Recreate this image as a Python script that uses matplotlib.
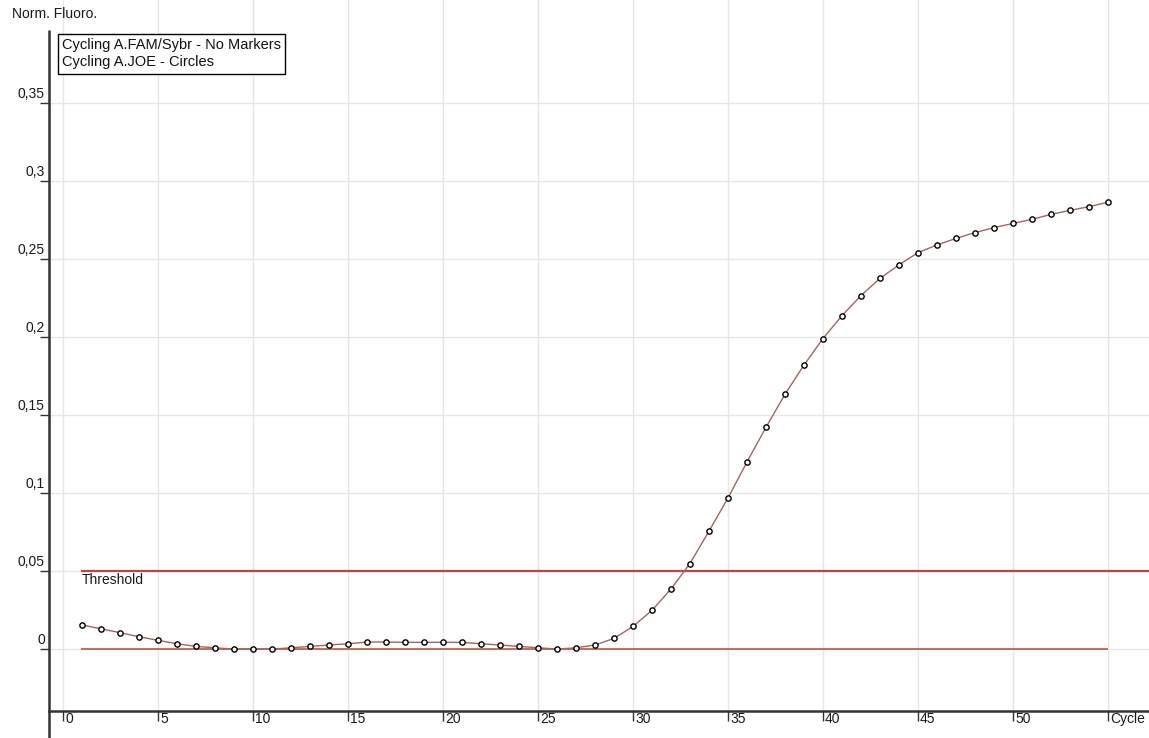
import numpy as np
import matplotlib
matplotlib.use("Agg")
import matplotlib.pyplot as plt

plt.rcParams["font.family"] = ["Liberation Sans", "DejaVu Sans"]
plt.rcParams["font.size"] = 10

# Amplification curve (Norm. Fluoro. per cycle)
cycles = np.arange(1, 56)
fluoro = [
    0.0154, 0.0130, 0.0105, 0.0079, 0.0056, 0.0034, 0.0017, 0.0008, 0.0000, 0.0000,
    0.0000, 0.0008, 0.0017, 0.0026, 0.0034, 0.0045, 0.0045, 0.0043, 0.0043, 0.0043,
    0.0043, 0.0034, 0.0026, 0.0017, 0.0008, 0.0000, 0.0008, 0.0026, 0.0068, 0.0145,
    0.0248, 0.0385, 0.0548, 0.0756, 0.0968, 0.1199, 0.1421, 0.1633, 0.1820, 0.1990,
    0.2137, 0.2265, 0.2376, 0.2462, 0.2541, 0.2590, 0.2632, 0.2669, 0.2701, 0.2728,
    0.2754, 0.2786, 0.2812, 0.2835, 0.2864,
]
threshold = 0.05

x_ticks = [0, 5, 10, 15, 20, 25, 30, 35, 40, 45, 50, 55]
x_labels = ["0", "5", "10", "15", "20", "25", "30", "35", "40", "45", "50", "Cycle"]
y_ticks = [0, 0.05, 0.1, 0.15, 0.2, 0.25, 0.3, 0.35]
y_labels = ["0", "0,05", "0,1", "0,15", "0,2", "0,25", "0,3", "0,35"]
legend_lines = ["Cycling A.FAM/Sybr - No Markers", "Cycling A.JOE - Circles"]

W, H = 1149, 738
fig = plt.figure(figsize=(W / 100, H / 100), dpi=100)
ax = fig.add_axes([49 / W, 27 / H, 1100 / W, 711 / H])
xmin, xmax = -0.737, 57.16
ax.set_xlim(xmin, xmax)
ax.set_ylim(-0.0397, 0.416)

for s in ["top", "right", "left"]:
    ax.spines[s].set_visible(False)
ax.spines["bottom"].set_color("#333333")
ax.spines["bottom"].set_linewidth(1.8)

# left axis line runs past the x axis down to the figure edge
ax.plot([0, 0], [-0.04, 0.958], transform=ax.transAxes, color="#333333",
        lw=1.8, clip_on=False, solid_capstyle="butt")

# grid
grid_c = "#e6e6e6"
for yv in y_ticks:
    ax.axhline(yv, color=grid_c, lw=1, zorder=0)
for xv in x_ticks:
    ax.axvline(xv, color=grid_c, lw=1, zorder=0)

# ticks
ax.set_xticks(x_ticks)
ax.set_yticks(y_ticks)
ax.set_xticklabels([])
ax.set_yticklabels([])
ax.tick_params(axis="x", direction="out", length=7, width=1, color="#333333")
ax.tick_params(axis="y", direction="out", length=6.5, width=1, color="#333333")

for xv, lab in zip(x_ticks, x_labels):
    ax.annotate(lab, (xv, 0), xycoords=ax.get_xaxis_transform(),
                xytext=(1.5, -1), textcoords="offset points",
                ha="left", va="top", color="#1a1a1a", annotation_clip=False)
for yv, lab in zip(y_ticks, y_labels):
    ax.annotate(lab, (0, yv), xycoords=ax.get_yaxis_transform(),
                xytext=(-3, 1.5), textcoords="offset points",
                ha="right", va="bottom", color="#1a1a1a", annotation_clip=False)

# threshold and baseline
ax.hlines(threshold, 0.95, xmax, color="#c04446", lw=1.6, zorder=2)
ax.hlines(0, 0.95, 55, color="#b8583e", lw=1.2, zorder=2)
ax.annotate("Threshold", (1, threshold), xytext=(0, -1.5),
            textcoords="offset points", ha="left", va="top", color="#1a1a1a")

# curve
ax.plot(cycles, fluoro, color="#a06660", lw=1, zorder=3)
ax.plot(cycles, fluoro, ls="none", marker="o", ms=3.8, mfc="white",
        mec="black", mew=1, zorder=4)

# legend box
ax.text(13 / 1100, (711 - 38) / 711, "\n".join(legend_lines),
        transform=ax.transAxes, ha="left", va="top", color="#111111",
        fontsize=10.5, linespacing=1.3,
        bbox=dict(boxstyle="square,pad=0.3", fc="white", ec="black", lw=1))

fig.text(12 / W, 1 - 14 / H, "Norm. Fluoro.", ha="left", va="center",
         color="#1a1a1a")

fig.savefig("out.png", dpi=100)
